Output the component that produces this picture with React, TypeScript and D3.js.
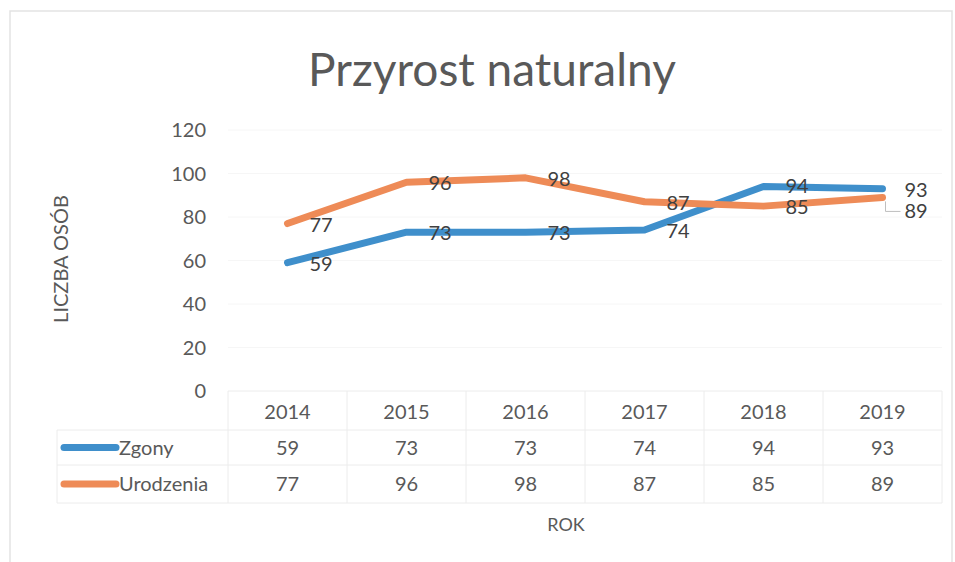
import { useEffect, useRef } from 'react';
import * as d3 from 'd3';

const years = ['2014', '2015', '2016', '2017', '2018', '2019'];
const zgony = [59, 73, 73, 74, 94, 93];
const urodzenia = [77, 96, 98, 87, 85, 89];
const yTicks = [0, 20, 40, 60, 80, 100, 120];

const seriesNames = ['Zgony', 'Urodzenia'];
const seriesColors = ['#3F8FCB', '#EE8B57'];

const FONT = 'Lato, "Open Sans", sans-serif';

const App = () => {
  const chartRef = useRef<SVGSVGElement>(null);

  useEffect(() => {
    const svg = d3.select(chartRef.current);
    svg.selectAll('*').remove();

    const plotLeft = 228;
    const plotRight = 942;
    const plotTop = 130;
    const plotBottom = 391;

    // outer chart border
    svg.append('rect')
      .attr('x', 10).attr('y', 11)
      .attr('width', 942).attr('height', 570)
      .attr('fill', '#fff')
      .attr('stroke', '#e3e3e3')
      .attr('stroke-width', 1.5);

    const x = d3.scaleBand<string>()
      .domain(years)
      .range([plotLeft, plotRight]);

    const y = d3.scaleLinear()
      .domain([0, 120])
      .range([plotBottom, plotTop]);

    // title
    svg.append('text')
      .attr('x', 492).attr('y', 86)
      .attr('text-anchor', 'middle')
      .attr('font-family', FONT)
      .attr('font-size', 46)
      .attr('fill', '#595959')
      .text('Przyrost naturalny');

    // gridlines (very faint in the original)
    svg.append('g')
      .selectAll('line')
      .data(yTicks.slice(1))
      .enter()
      .append('line')
      .attr('x1', plotLeft).attr('x2', plotRight)
      .attr('y1', d => y(d)).attr('y2', d => y(d))
      .attr('stroke', '#f6f6f6')
      .attr('stroke-width', 1);

    // y tick labels
    svg.append('g')
      .selectAll('text')
      .data(yTicks)
      .enter()
      .append('text')
      .attr('x', 206)
      .attr('y', d => y(d))
      .attr('dy', '0.35em')
      .attr('text-anchor', 'end')
      .attr('font-family', FONT)
      .attr('font-size', 20)
      .attr('fill', '#595959')
      .text(d => d);

    // y axis title
    svg.append('text')
      .attr('transform', `translate(68, 259) rotate(-90)`)
      .attr('text-anchor', 'middle')
      .attr('font-family', FONT)
      .attr('font-size', 20)
      .attr('fill', '#595959')
      .text('LICZBA OSÓB');

    // data table
    const tableTop = plotBottom;
    const rowH = [39, 35, 38];
    const rowY = [tableTop, tableTop + rowH[0], tableTop + rowH[0] + rowH[1], tableTop + rowH[0] + rowH[1] + rowH[2]];
    const tableLeft = 57;
    const table = svg.append('g');
    const gridColor = '#ececec';

    table.append('line')
      .attr('x1', plotLeft).attr('x2', plotRight)
      .attr('y1', rowY[0]).attr('y2', rowY[0])
      .attr('stroke', gridColor);
    [1, 2, 3].forEach(i => {
      table.append('line')
        .attr('x1', tableLeft).attr('x2', plotRight)
        .attr('y1', rowY[i]).attr('y2', rowY[i])
        .attr('stroke', gridColor);
    });
    table.append('line')
      .attr('x1', tableLeft).attr('x2', tableLeft)
      .attr('y1', rowY[1]).attr('y2', rowY[3])
      .attr('stroke', gridColor);
    const vLines = years.map(d => x(d) as number).concat([plotRight]);
    table.selectAll('.vline')
      .data(vLines)
      .enter()
      .append('line')
      .attr('class', 'vline')
      .attr('x1', d => d).attr('x2', d => d)
      .attr('y1', rowY[0]).attr('y2', rowY[3])
      .attr('stroke', gridColor);

    const cx = (d: string) => (x(d) as number) + x.bandwidth() / 2;

    table.selectAll('.year')
      .data(years)
      .enter()
      .append('text')
      .attr('class', 'year')
      .attr('x', d => cx(d))
      .attr('y', (rowY[0] + rowY[1]) / 2 + 1)
      .attr('dy', '0.35em')
      .attr('text-anchor', 'middle')
      .attr('font-family', FONT)
      .attr('font-size', 20)
      .attr('fill', '#595959')
      .text(d => d);

    [zgony, urodzenia].forEach((vals, s) => {
      const ry = (rowY[s + 1] + rowY[s + 2]) / 2;
      table.append('line')
        .attr('x1', 64).attr('x2', 116)
        .attr('y1', ry).attr('y2', ry)
        .attr('stroke', seriesColors[s])
        .attr('stroke-width', 7)
        .attr('stroke-linecap', 'round');
      table.append('text')
        .attr('x', 119)
        .attr('y', ry)
        .attr('dy', '0.35em')
        .attr('font-family', FONT)
        .attr('font-size', 20)
        .attr('fill', '#595959')
        .text(seriesNames[s]);
      table.selectAll(`.val${s}`)
        .data(vals)
        .enter()
        .append('text')
        .attr('class', `val${s}`)
        .attr('x', (_d, i) => cx(years[i]))
        .attr('y', ry)
        .attr('dy', '0.35em')
        .attr('text-anchor', 'middle')
        .attr('font-family', FONT)
        .attr('font-size', 20)
        .attr('fill', '#595959')
        .text(d => d);
    });

    // x axis title
    svg.append('text')
      .attr('x', 566).attr('y', 525)
      .attr('dy', '0.35em')
      .attr('text-anchor', 'middle')
      .attr('font-family', FONT)
      .attr('font-size', 18)
      .attr('fill', '#595959')
      .text('ROK');

    // lines
    const line = d3.line<number>()
      .x((_d, i) => cx(years[i]))
      .y(d => y(d));

    [zgony, urodzenia].forEach((vals, s) => {
      svg.append('path')
        .datum(vals)
        .attr('d', line)
        .attr('fill', 'none')
        .attr('stroke', seriesColors[s])
        .attr('stroke-width', 7)
        .attr('stroke-linecap', 'round')
        .attr('stroke-linejoin', 'round');
    });

    // data labels (right of point); last orange label pushed down with leader
    [zgony, urodzenia].forEach((vals, s) => {
      svg.selectAll(`.lbl${s}`)
        .data(vals)
        .enter()
        .append('text')
        .attr('class', `lbl${s}`)
        .attr('x', (_d, i) => cx(years[i]) + 22)
        .attr('y', (d, i) => y(d) + (s === 1 && i === 5 ? 14 : (s === 0 && i === 4 ? -1 : 1)))
        .attr('dy', '0.35em')
        .attr('font-family', FONT)
        .attr('font-size', 20)
        .attr('fill', '#404040')
        .text(d => d);
    });
    const lastX = cx(years[5]);
    const lastY = y(urodzenia[5]);
    svg.append('path')
      .attr('d', `M${lastX + 3},${lastY + 4} V${lastY + 14} H${lastX + 18}`)
      .attr('fill', 'none')
      .attr('stroke', '#bfbfbf')
      .attr('stroke-width', 1);
  }, []);

  return (
    <svg
      ref={chartRef}
      width={955}
      height={562}
      style={{ position: 'absolute', left: 0, top: 0, background: '#fff' }}
    />
  );
};

export default App;
